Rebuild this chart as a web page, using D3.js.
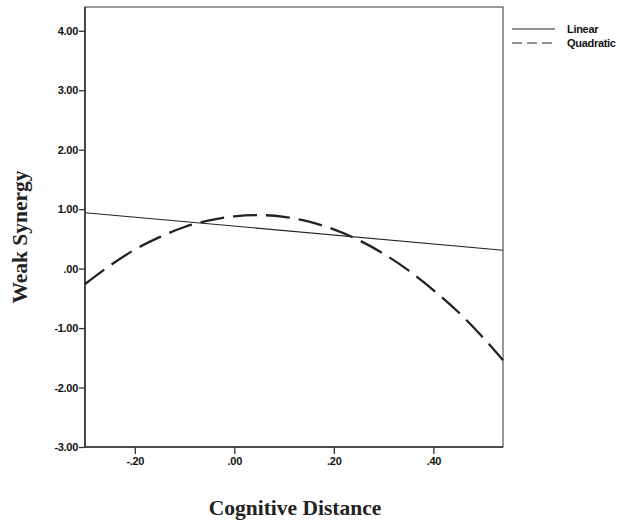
<!DOCTYPE html>
<html>
<head>
<meta charset="utf-8">
<script src="https://cdn.jsdelivr.net/npm/d3@7"></script>
<style>
  html, body { margin: 0; padding: 0; background: #fff; }
  svg { display: block; }
</style>
</head>
<body>
<svg id="chart" width="620" height="521"></svg>
<script>
// Cognitive distance vs. weak synergy: linear and quadratic fits
const linearX = [-0.30, 0.54];
const linearY = [0.94, 0.31];

const quadX = [-0.30, -0.25, -0.20, -0.15, -0.10, -0.05, 0.00, 0.05, 0.10, 0.15,
               0.20, 0.25, 0.30, 0.35, 0.40, 0.45, 0.50, 0.54];
const quadY = [-0.26, 0.05, 0.32, 0.53, 0.70, 0.81, 0.88, 0.90, 0.87, 0.79,
               0.66, 0.48, 0.25, -0.03, -0.36, -0.73, -1.16, -1.54];

const xTickValues = [-0.20, 0.00, 0.20, 0.40];
const xTickLabels = ["-.20", ".00", ".20", ".40"];
const yTickValues = [4, 3, 2, 1, 0, -1, -2, -3];
const yTickLabels = ["4.00", "3.00", "2.00", "1.00", ".00", "-1.00", "-2.00", "-3.00"];

const seriesNames = ["Linear", "Quadratic"];

const svg = d3.select("#chart");
const plotLeft = 85, plotRight = 503, plotTop = 7, plotBottom = 447;

const x = d3.scaleLinear().domain([-0.30, 0.54]).range([plotLeft, plotRight]);
const y = d3.scaleLinear().domain([-3, 4.4]).range([plotBottom, plotTop]);

const tickFont = "'Liberation Sans', Arial, sans-serif";
const titleFont = "'Liberation Serif', 'Times New Roman', serif";

// frame: thin top/right, heavier left/bottom axes
svg.append("rect")
  .attr("x", plotLeft).attr("y", plotTop)
  .attr("width", plotRight - plotLeft).attr("height", plotBottom - plotTop)
  .attr("fill", "none").attr("stroke", "#333").attr("stroke-width", 1);

const yAxis = d3.axisLeft(y)
  .tickValues(yTickValues)
  .tickFormat((d, i) => yTickLabels[i])
  .tickSize(6).tickPadding(1);
const yg = svg.append("g").attr("transform", `translate(${plotLeft},0)`).call(yAxis);

const xAxis = d3.axisBottom(x)
  .tickValues(xTickValues)
  .tickFormat((d, i) => xTickLabels[i])
  .tickSize(7).tickPadding(3);
const xg = svg.append("g").attr("transform", `translate(0,${plotBottom})`).call(xAxis);

[yg, xg].forEach(g => {
  g.select(".domain").attr("stroke", "#333").attr("stroke-width", 1.6);
  g.selectAll(".tick line").attr("stroke", "#333").attr("stroke-width", 1.3);
  g.selectAll(".tick text")
    .attr("fill", "#111")
    .style("font-family", tickFont)
    .style("font-size", "11px")
    .style("font-weight", "bold")
    .style("letter-spacing", "-0.3px");
});
yg.select(".domain").attr("d", `M0,${plotTop}V${plotBottom}`);
xg.select(".domain").attr("d", `M${plotLeft},0H${plotRight}`);

// fitted lines
const line = d3.line().x(d => x(d[0])).y(d => y(d[1]));
const curve = d3.line().x(d => x(d[0])).y(d => y(d[1])).curve(d3.curveMonotoneX);

svg.append("path")
  .datum(linearX.map((v, i) => [v, linearY[i]]))
  .attr("d", line)
  .attr("fill", "none").attr("stroke", "#222").attr("stroke-width", 1.1);

svg.append("path")
  .datum(quadX.map((v, i) => [v, quadY[i]]))
  .attr("d", curve)
  .attr("fill", "none").attr("stroke", "#222").attr("stroke-width", 2.3)
  .attr("stroke-dasharray", "24,9");

// legend
const legend = svg.append("g");
const legendRows = [
  { name: seriesNames[0], y: 29, dash: null, w: 1.1 },
  { name: seriesNames[1], y: 43, dash: "10,5", w: 1.2 }
];
legendRows.forEach(r => {
  legend.append("line")
    .attr("x1", 512).attr("x2", 555)
    .attr("y1", r.y).attr("y2", r.y)
    .attr("stroke", "#222").attr("stroke-width", r.w)
    .attr("stroke-dasharray", r.dash);
  legend.append("text")
    .attr("x", 567).attr("y", r.y + 4)
    .attr("fill", "#111")
    .style("font-family", tickFont)
    .style("font-size", "11px")
    .style("font-weight", "bold")
    .style("letter-spacing", "-0.3px")
    .text(r.name);
});

// axis titles
svg.append("text")
  .attr("x", 295).attr("y", 515)
  .attr("text-anchor", "middle")
  .attr("fill", "#222")
  .style("font-family", titleFont)
  .style("font-size", "21.5px")
  .style("font-weight", "bold")
  .text("Cognitive Distance");

svg.append("text")
  .attr("transform", "translate(27,237) rotate(-90)")
  .attr("text-anchor", "middle")
  .attr("fill", "#222")
  .style("font-family", titleFont)
  .style("font-size", "21.5px")
  .style("font-weight", "bold")
  .text("Weak Synergy");
</script>
</body>
</html>
